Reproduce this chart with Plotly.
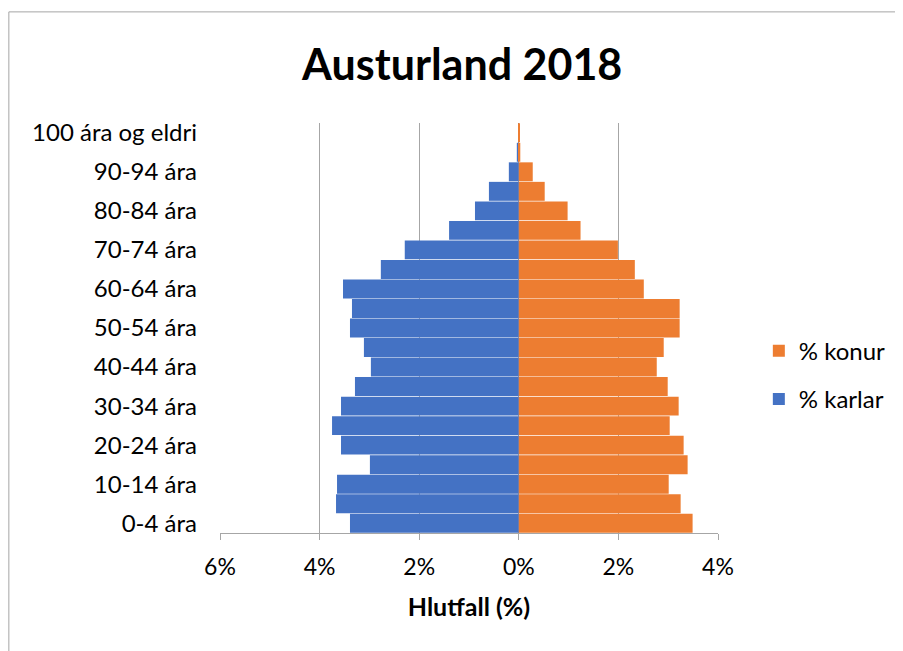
import plotly.graph_objects as go

aldur = ['0-4 ára', '5-9 ára', '10-14 ára', '15-19 ára', '20-24 ára', '25-29 ára',
         '30-34 ára', '35-39 ára', '40-44 ára', '45-49 ára', '50-54 ára', '55-59 ára',
         '60-64 ára', '65-69 ára', '70-74 ára', '75-79 ára', '80-84 ára', '85-89 ára',
         '90-94 ára', '95-99 ára', '100 ára og eldri']

# karlar sem neikvæð gildi svo þeir lendi vinstra megin
karlar = [-3.39, -3.67, -3.65, -2.99, -3.57, -3.75, -3.57, -3.29, -2.97, -3.11,
          -3.39, -3.35, -3.53, -2.77, -2.29, -1.40, -0.88, -0.60, -0.20, -0.04, -0.01]
konur = [3.49, 3.25, 3.01, 3.39, 3.31, 3.03, 3.21, 2.99, 2.77, 2.91,
         3.23, 3.23, 2.51, 2.33, 1.99, 1.24, 0.98, 0.52, 0.28, 0.03, 0.01]

x_ticks = [-6, -4, -2, 0, 2, 4]
x_labels = ['6%', '4%', '2%', '0%', '2%', '4%']

font_fam = 'Lato, Open Sans, sans-serif'
rammi = '#a6a6a6'

fig = go.Figure()
fig.add_trace(go.Bar(y=aldur, x=karlar, orientation='h', name='% karlar',
                     marker=dict(color='#4472C4', line=dict(width=0)),
                     legendgroup='k', legendrank=2))
fig.add_trace(go.Bar(y=aldur, x=konur, orientation='h', name='% konur',
                     marker=dict(color='#ED7D31', line=dict(width=0)),
                     legendgroup='f', legendrank=1))

fig.update_layout(
    barmode='overlay',
    bargap=0.03,
    width=903, height=651,
    paper_bgcolor='white', plot_bgcolor='white',
    font=dict(family=font_fam, size=23, color='black'),
    margin=dict(l=212, r=193, t=115, b=126),
    title=dict(text='<b>Austurland 2018</b>', x=0.503, xanchor='center',
               y=0.912, yanchor='middle', font=dict(size=43, family=font_fam)),
    legend=dict(x=1.082, y=0.385, xanchor='left', yanchor='middle',
                traceorder='grouped', tracegroupgap=14,
                font=dict(size=24), bgcolor='rgba(0,0,0,0)'),
    showlegend=True,
    shapes=[
        # rammi utan um myndina (efri og vinstri brún sjást)
        dict(type='line', xref='paper', yref='paper',
             x0=-0.424, x1=1.5, y0=1.271, y1=1.271,
             line=dict(color=rammi, width=1)),
        dict(type='line', xref='paper', yref='paper',
             x0=-0.424, x1=-0.424, y0=-0.5, y1=1.271,
             line=dict(color=rammi, width=1)),
    ],
)

fig.update_xaxes(range=[-6, 4], tickvals=x_ticks, ticktext=x_labels,
                 showgrid=True, gridcolor=rammi, gridwidth=1,
                 zeroline=True, zerolinecolor=rammi, zerolinewidth=1,
                 showline=True, linecolor=rammi, linewidth=1,
                 ticks='outside', ticklen=6, tickcolor=rammi,
                 ticklabelstandoff=7,
                 tickfont=dict(size=23),
                 title=dict(text='<b>Hlutfall (%)</b>', font=dict(size=25), standoff=19))

fig.update_yaxes(type='category', categoryorder='array', categoryarray=aldur,
                 tickvals=aldur[::2], ticktext=aldur[::2],
                 showgrid=False, ticks='', ticklabelstandoff=22,
                 tickfont=dict(size=24))

fig.write_html('out.html')
